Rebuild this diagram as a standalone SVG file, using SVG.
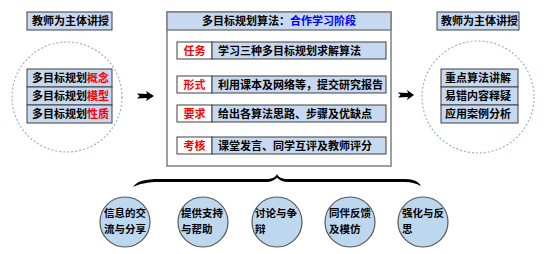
<svg xmlns="http://www.w3.org/2000/svg" width="550" height="254" viewBox="0 0 550 254">
<style>
text{font-family:"Noto Sans CJK SC","Liberation Sans",sans-serif;font-weight:bold;font-size:11px;fill:#000}
.box{fill:#C6D9F1;stroke:#404040;stroke-width:1}
.wbox{fill:#fff;stroke:#404040;stroke-width:1}
.ring{fill:none;stroke:#95B3D7;stroke-width:1.2;stroke-dasharray:2 2}
.bub{fill:#BDD7EE;stroke:#595959;stroke-width:1.2}
.red{fill:#FF0000}
.blue{fill:#0000FF}
.c{font-size:10.5px}
</style>
<rect width="550" height="254" fill="#fff"/>

<g id="left-title">
<rect class="box" x="27" y="12" width="85" height="18"/>
<text x="32" y="25">教师为主体讲授</text>
</g>
<g id="left-group">
<circle class="ring" cx="67" cy="97" r="55"/>
<rect class="box" x="27" y="69" width="85" height="18"/>
<text x="32" y="82">多目标规划<tspan class="red">概念</tspan></text>
<rect class="box" x="27" y="87" width="85" height="18"/>
<text x="32" y="100">多目标规划<tspan class="red">模型</tspan></text>
<rect class="box" x="27" y="105" width="85" height="18"/>
<text x="32" y="118">多目标规划<tspan class="red">性质</tspan></text>
</g>

<g id="main">
<rect x="167" y="12" width="224" height="154" fill="#fff" stroke="#7F7F7F" stroke-width="1.5"/>
<rect x="167" y="12" width="224" height="18" fill="#C6D9F1" stroke="#7F7F7F" stroke-width="1.5"/>
<text x="279" y="25" text-anchor="middle">多目标规划算法：<tspan class="blue">合作学习阶段</tspan></text>
<g id="row1">
<rect class="wbox" x="177" y="42" width="35" height="17"/>
<rect class="box" x="212" y="42" width="174" height="17"/>
<text class="red" x="194.5" y="55" text-anchor="middle">任务</text>
<text x="218" y="55">学习三种多目标规划求解算法</text>
</g>
<g id="row2">
<rect class="wbox" x="177" y="76" width="35" height="17"/>
<rect class="box" x="212" y="76" width="174" height="17"/>
<text class="red" x="194.5" y="89" text-anchor="middle">形式</text>
<text x="218" y="89">利用课本及网络等，提交研究报告</text>
</g>
<g id="row3">
<rect class="wbox" x="177" y="105" width="35" height="17"/>
<rect class="box" x="212" y="105" width="174" height="17"/>
<text class="red" x="194.5" y="118" text-anchor="middle">要求</text>
<text x="218" y="118">给出各算法思路、步骤及优缺点</text>
</g>
<g id="row4">
<rect class="wbox" x="177" y="137" width="35" height="17"/>
<rect class="box" x="212" y="137" width="174" height="17"/>
<text class="red" x="194.5" y="150" text-anchor="middle">考核</text>
<text x="218" y="150">课堂发言、同学互评及教师评分</text>
</g>
</g>

<g id="right-title">
<rect class="box" x="437" y="12" width="82" height="18"/>
<text x="441" y="25">教师为主体讲授</text>
</g>
<g id="right-group">
<circle class="ring" cx="478" cy="97" r="56"/>
<rect class="box" x="441" y="69" width="77" height="18"/>
<text x="445" y="82">重点算法讲解</text>
<rect class="box" x="441" y="87" width="77" height="18"/>
<text x="445" y="100">易错内容释疑</text>
<rect class="box" x="441" y="105" width="77" height="18"/>
<text x="445" y="118">应用案例分析</text>
</g>

<g id="connectors">
<path d="M137,93.5 L147,94 L146,91 L154,96 L146,101 L147,98 L137,98.5 L139.5,96 Z" fill="#000"/>
<path d="M398,92.5 L408,93 L407,90 L414,95 L407,100 L408,97 L398,97.5 L400.5,95 Z" fill="#000"/>
<path d="M133,187 C137,181 145,179 160,179 L266,179 C272,179 276,177 277,174 C278,177 282,179 288,179 L405,179 C414,179 419,182 421,186 C417,184 412,182 405,182 L288,182 C283,182 279,180 277,177.5 C275,180 271,182 266,182 L160,182 C147,182 139,184 133,187 Z" fill="#000"/>
</g>

<g id="b1"><circle class="bub" cx="125" cy="222" r="25"/>
<text class="c" x="104" y="217">信息的交<tspan x="104" dy="15.5">流与分享</tspan></text></g>
<g id="b2"><circle class="bub" cx="203" cy="222" r="25"/>
<text class="c" x="181" y="217">提供支持<tspan x="181" dy="15.5">与帮助</tspan></text></g>
<g id="b3"><circle class="bub" cx="277" cy="222" r="25"/>
<text class="c" x="255" y="217">讨论与争<tspan x="255" dy="15.5">辩</tspan></text></g>
<g id="b4"><circle class="bub" cx="350" cy="222" r="25"/>
<text class="c" x="329" y="217">同伴反馈<tspan x="329" dy="15.5">及模仿</tspan></text></g>
<g id="b5"><circle class="bub" cx="423" cy="222" r="25"/>
<text class="c" x="402" y="217">强化与反<tspan x="402" dy="15.5">思</tspan></text></g>
</svg>
